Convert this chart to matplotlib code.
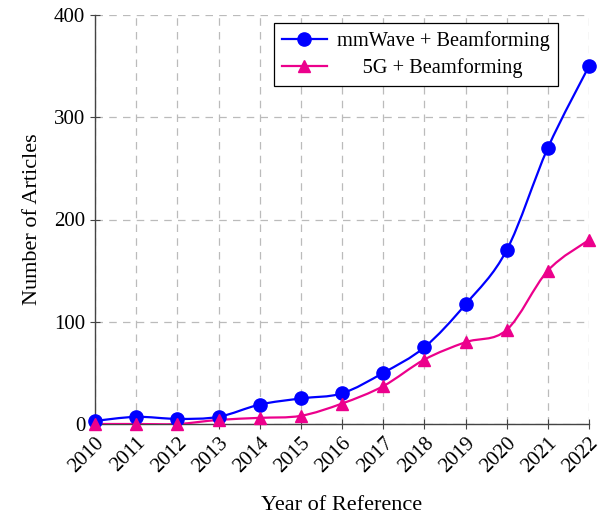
import matplotlib
matplotlib.use("Agg")
import matplotlib.pyplot as plt
import numpy as np
from matplotlib.path import Path
from matplotlib.patches import PathPatch
from matplotlib.lines import Line2D

plt.rcParams["font.family"] = ["Liberation Serif", "DejaVu Serif"]
plt.rcParams["mathtext.fontset"] = "stix"

years = [2010, 2011, 2012, 2013, 2014, 2015, 2016, 2017, 2018, 2019, 2020, 2021, 2022]
mmwave = [3, 7, 5, 7, 19, 25, 30, 50, 75, 117, 170, 270, 350]
fiveg = [0, 0, 0, 4, 6, 8, 20, 37, 63, 80, 92, 150, 180]
series_names = ["mmWave + Beamforming", "     5G + Beamforming"]

BLUE = "#0000FF"
PINK = "#EC008C"


def smooth_path(x, y):
    # cubic bezier through the points (Catmull-Rom tangents), like pgfplots "smooth"
    pts = np.column_stack([x, y]).astype(float)
    verts = [pts[0]]
    codes = [Path.MOVETO]
    n = len(pts)
    for i in range(n - 1):
        p0 = pts[i - 1] if i > 0 else pts[i]
        p1, p2 = pts[i], pts[i + 1]
        p3 = pts[i + 2] if i + 2 < n else pts[i + 1]
        c1 = p1 + (p2 - p0) / 6.0
        c2 = p2 - (p3 - p1) / 6.0
        verts += [c1, c2, p2]
        codes += [Path.CURVE4] * 3
    return Path(verts, codes)


fig = plt.figure(figsize=(6.01, 5.15), dpi=100)
ax = fig.add_axes([95 / 601, (515 - 424) / 515, (589 - 95) / 601, (424 - 15) / 515])

for ys, col, mk, ms in [(mmwave, BLUE, "o", 9.5), (fiveg, PINK, "^", 8.5)]:
    ax.add_patch(PathPatch(smooth_path(years, ys), facecolor="none",
                           edgecolor=col, lw=1.6, zorder=3))
    ax.plot(years, ys, ls="none", marker=mk, color=col, ms=ms, zorder=4,
            clip_on=False)

ax.set_xlim(2010, 2022)
ax.set_ylim(0, 400)
ax.set_xticks(years)
ax.set_xticklabels([str(y) for y in years], rotation=45, ha="right",
                   rotation_mode="anchor", fontsize=15)
ax.set_yticks([0, 100, 200, 300, 400])
ax.tick_params(axis="y", labelsize=15)
ax.tick_params(direction="inout", length=7, width=0.8, color="#444444")
ax.grid(True, ls=(0, (6, 5)), color="#BBBBBB", lw=0.9)
ax.set_axisbelow(True)
for s in ["top", "right"]:
    ax.spines[s].set_visible(False)
for s in ["left", "bottom"]:
    ax.spines[s].set_color("#444444")
    ax.spines[s].set_linewidth(1.0)

ax.set_xlabel("Year of Reference", fontsize=16, labelpad=14)
ax.set_ylabel("Number of Articles", fontsize=16, labelpad=9)

handles = [Line2D([], [], color=BLUE, marker="o", ms=9.5, lw=1.6),
           Line2D([], [], color=PINK, marker="^", ms=8.5, lw=1.6)]
leg = ax.legend(handles, series_names,
                loc="upper right", bbox_to_anchor=(558 / 601, 1 - 23 / 515),
                bbox_transform=fig.transFigure, fontsize=14.7, frameon=True,
                fancybox=False, edgecolor="black", framealpha=1,
                handlelength=2.2, borderpad=0.4, labelspacing=0.35,
                handletextpad=0.5, borderaxespad=0)
leg.get_frame().set_linewidth(0.9)

fig.savefig("out.png", dpi=100)
